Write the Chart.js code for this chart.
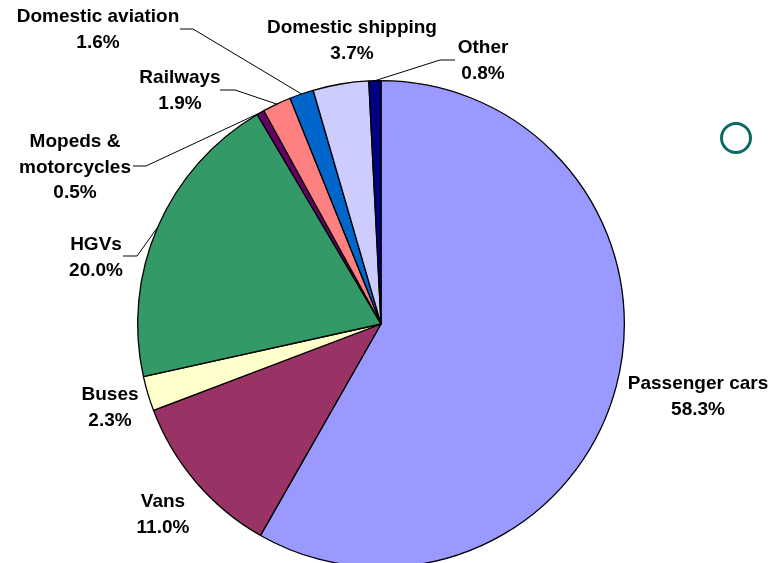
<!DOCTYPE html>
<html>
<head>
<meta charset="utf-8">
<script src="https://cdn.jsdelivr.net/npm/chart.js@4"></script>
<style>
  html, body { margin: 0; padding: 0; background: #fff; overflow: hidden; }
  #wrap { width: 770px; height: 610px; }
</style>
</head>
<body>
<div id="wrap"><canvas id="pie"></canvas></div>
<script>
// data
const categories = ['Passenger cars', 'Vans', 'Buses', 'HGVs', 'Mopeds & motorcycles',
  'Railways', 'Domestic aviation', 'Domestic shipping', 'Other'];
const shares = [58.3, 11.0, 2.3, 20.0, 0.5, 1.9, 1.6, 3.7, 0.8];
const colours = ['#9999FF', '#993366', '#FFFFCC', '#339966', '#660066',
  '#FF8080', '#0066CC', '#CCCCFF', '#000080'];

// label text lines and placement (centre x, first line y), plus leader elbows
const labelLines = [
  ['Passenger cars'], ['Vans'], ['Buses'], ['HGVs'], ['Mopeds &', 'motorcycles'],
  ['Railways'], ['Domestic aviation'], ['Domestic shipping'], ['Other']
];
const labelPos = [
  [698, 384], [163, 502], [110, 395], [96, 245], [75, 142],
  [180, 78], [98, 17], [352, 28], [483, 48]
];
// [end x, end y, elbow x] ; null = no leader line
const leaders = [
  null, null, null, [123, 256, 137], [133, 166, 146],
  [220, 90, 235], [180, 29, 193], null, [455, 60, 440]
];

const lineGap = 25.5;
const font = 'bold 19px "Liberation Sans", Arial, sans-serif';

const labelPlugin = {
  id: 'labels',
  afterDatasetsDraw(chart) {
    const ctx = chart.ctx;
    const arcs = chart.getDatasetMeta(0).data;
    ctx.save();
    // leader lines
    ctx.strokeStyle = '#000';
    ctx.lineWidth = 1;
    arcs.forEach((arc, i) => {
      const l = leaders[i];
      if (!l) return;
      const p = arc.getProps(['x', 'y', 'startAngle', 'endAngle', 'outerRadius'], true);
      const mid = (p.startAngle + p.endAngle) / 2;
      const ax = p.x + Math.cos(mid) * p.outerRadius;
      const ay = p.y + Math.sin(mid) * p.outerRadius;
      ctx.beginPath();
      ctx.moveTo(l[0], l[1]);
      ctx.lineTo(l[2], l[1]);
      ctx.lineTo(ax, ay);
      ctx.stroke();
    });
    // label text
    ctx.fillStyle = '#000';
    ctx.font = font;
    ctx.textAlign = 'center';
    ctx.textBaseline = 'middle';
    categories.forEach((c, i) => {
      const lines = labelLines[i].concat([shares[i].toFixed(1) + '%']);
      const [x, y] = labelPos[i];
      lines.forEach((t, k) => ctx.fillText(t, x, y + k * lineGap));
    });
    // stray marker at the right
    ctx.beginPath();
    ctx.strokeStyle = '#0A6B63';
    ctx.lineWidth = 3;
    ctx.arc(736, 138, 14.5, 0, Math.PI * 2);
    ctx.stroke();
    ctx.restore();
  }
};

new Chart(document.getElementById('pie'), {
  type: 'pie',
  data: {
    labels: categories,
    datasets: [{
      data: shares,
      backgroundColor: colours,
      borderColor: '#000',
      borderWidth: 1.3
    }]
  },
  options: {
    responsive: true,
    maintainAspectRatio: false,
    animation: false,
    layout: { padding: { left: 137, right: 145, top: 80, bottom: 42 } },
    plugins: {
      legend: { display: false },
      tooltip: { enabled: false }
    }
  },
  plugins: [labelPlugin]
});
</script>
</body>
</html>
